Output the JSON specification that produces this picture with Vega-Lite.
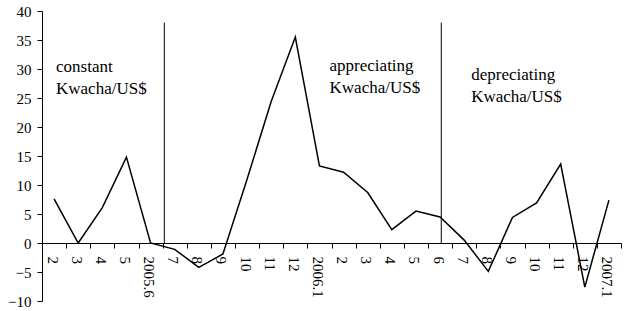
{
  "$schema": "https://vega.github.io/schema/vega-lite/v6.json",
  "width": 579,
  "height": 290,
  "autosize": "none",
  "padding": {"left": 42, "top": 11, "right": 4, "bottom": 10},
  "background": "white",
  "config": {
    "view": {"stroke": null},
    "font": "Liberation Serif, Times New Roman, serif",
    "axis": {"labelFont": "Liberation Serif, Times New Roman, serif", "labelColor": "black", "domainColor": "black", "tickColor": "black", "grid": false, "title": null, "labelOverlap": false}
  },
  "layer": [
    {
      "data": {
        "values": [
          {"month": "2005.2", "value": 7.6},
          {"month": "2005.3", "value": 0},
          {"month": "2005.4", "value": 6.1},
          {"month": "2005.5", "value": 14.8},
          {"month": "2005.6", "value": 0},
          {"month": "2005.7", "value": -1.1},
          {"month": "2005.8", "value": -4.2},
          {"month": "2005.9", "value": -1.9},
          {"month": "2005.10", "value": 11},
          {"month": "2005.11", "value": 24.4},
          {"month": "2005.12", "value": 35.5},
          {"month": "2006.1", "value": 13.3},
          {"month": "2006.2", "value": 12.2},
          {"month": "2006.3", "value": 8.7},
          {"month": "2006.4", "value": 2.3},
          {"month": "2006.5", "value": 5.5},
          {"month": "2006.6", "value": 4.5},
          {"month": "2006.7", "value": 0.5},
          {"month": "2006.8", "value": -4.9},
          {"month": "2006.9", "value": 4.4},
          {"month": "2006.10", "value": 6.9},
          {"month": "2006.11", "value": 13.6},
          {"month": "2006.12", "value": -7.6},
          {"month": "2007.1", "value": 7.4}
        ]
      },
      "mark": {"type": "line", "color": "black", "strokeWidth": 1.5},
      "encoding": {
        "x": {
          "field": "month",
          "type": "ordinal",
          "scale": {
            "type": "band",
            "paddingInner": 0,
            "paddingOuter": 0,
            "domain": ["2005.2","2005.3","2005.4","2005.5","2005.6","2005.7","2005.8","2005.9","2005.10","2005.11","2005.12","2006.1","2006.2","2006.3","2006.4","2006.5","2006.6","2006.7","2006.8","2006.9","2006.10","2006.11","2006.12","2007.1"]
          },
          "axis": {
            "offset": -58,
            "tickBand": "extent",
            "tickSize": 5,
            "labelAngle": 90,
            "labelAlign": "left",
            "labelBaseline": "middle",
            "labelFontSize": 15,
            "labelPadding": 8,
            "labelOffset": -2,
            "labelExpr": "(datum.value == '2005.6' || datum.value == '2006.1' || datum.value == '2007.1') ? datum.value : split(datum.value, '.')[1]"
          }
        },
        "y": {
          "field": "value",
          "type": "quantitative",
          "scale": {"domain": [-10, 40], "nice": false, "zero": false},
          "axis": {"values": [-10, -5, 0, 5, 10, 15, 20, 25, 30, 35, 40], "tickSize": 5, "labelFontSize": 15, "labelPadding": 6, "labelOverlap": false}
        }
      }
    },
    {
      "data": {"values": [{"boundary": "2005.7", "top": 38, "base": 0}]},
      "mark": {"type": "rule", "color": "black", "strokeWidth": 1},
      "encoding": {
        "x": {"field": "boundary", "type": "ordinal", "bandPosition": 0.07},
        "y": {"field": "top", "type": "quantitative", "axis": {"values": [-10, -5, 0, 5, 10, 15, 20, 25, 30, 35, 40], "tickSize": 5, "labelFontSize": 15, "labelPadding": 6, "labelOverlap": false}},
        "y2": {"field": "base"}
      }
    },
    {
      "data": {"values": [{"boundary": "2006.6", "top": 38, "base": 0}]},
      "mark": {"type": "rule", "color": "black", "strokeWidth": 1},
      "encoding": {
        "x": {"field": "boundary", "type": "ordinal", "bandPosition": 0.55},
        "y": {"field": "top", "type": "quantitative", "axis": {"values": [-10, -5, 0, 5, 10, 15, 20, 25, 30, 35, 40], "tickSize": 5, "labelFontSize": 15, "labelPadding": 6, "labelOverlap": false}},
        "y2": {"field": "base"}
      }
    },
    {
      "data": {"values": [{"at": "2005.2", "level": 29.5, "note": ["constant", "Kwacha/US$"]}]},
      "mark": {"type": "text", "align": "left", "baseline": "alphabetic", "fontSize": 17, "lineHeight": 22, "fill": "black", "font": "Liberation Serif, Times New Roman, serif"},
      "encoding": {
        "x": {"field": "at", "type": "ordinal", "bandPosition": 0.58},
        "y": {"field": "level", "type": "quantitative", "axis": {"values": [-10, -5, 0, 5, 10, 15, 20, 25, 30, 35, 40], "tickSize": 5, "labelFontSize": 15, "labelPadding": 6, "labelOverlap": false}},
        "text": {"field": "note"}
      }
    },
    {
      "data": {"values": [{"at": "2006.1", "level": 29.6, "note": ["appreciating", "Kwacha/US$"]}]},
      "mark": {"type": "text", "align": "left", "baseline": "alphabetic", "fontSize": 17, "lineHeight": 22, "fill": "black", "font": "Liberation Serif, Times New Roman, serif"},
      "encoding": {
        "x": {"field": "at", "type": "ordinal", "bandPosition": 0.92},
        "y": {"field": "level", "type": "quantitative", "axis": {"values": [-10, -5, 0, 5, 10, 15, 20, 25, 30, 35, 40], "tickSize": 5, "labelFontSize": 15, "labelPadding": 6, "labelOverlap": false}},
        "text": {"field": "note"}
      }
    },
    {
      "data": {"values": [{"at": "2006.7", "level": 28.1, "note": ["depreciating", "Kwacha/US$"]}]},
      "mark": {"type": "text", "align": "left", "baseline": "alphabetic", "fontSize": 17, "lineHeight": 22, "fill": "black", "font": "Liberation Serif, Times New Roman, serif"},
      "encoding": {
        "x": {"field": "at", "type": "ordinal", "bandPosition": 0.79},
        "y": {"field": "level", "type": "quantitative", "axis": {"values": [-10, -5, 0, 5, 10, 15, 20, 25, 30, 35, 40], "tickSize": 5, "labelFontSize": 15, "labelPadding": 6, "labelOverlap": false}},
        "text": {"field": "note"}
      }
    }
  ]
}
